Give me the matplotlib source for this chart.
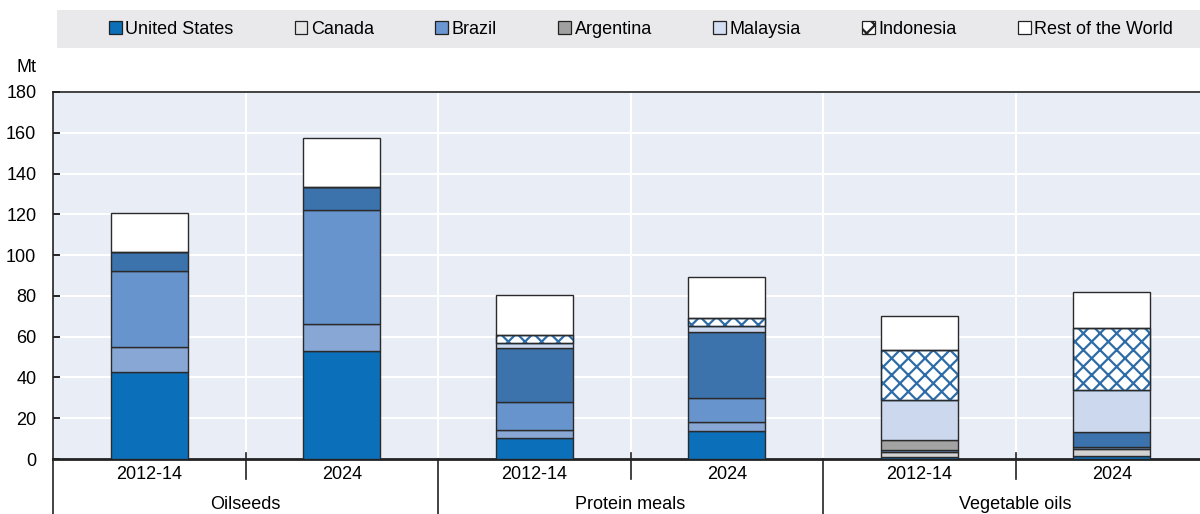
import matplotlib
matplotlib.use("Agg")
import matplotlib.pyplot as plt
import matplotlib.transforms as mtransforms
from matplotlib.patches import Patch, Rectangle
import numpy as np

plt.rcParams["font.family"] = ["Liberation Sans", "DejaVu Sans"]
plt.rcParams["hatch.linewidth"] = 1.6

# Data (Mt)
groups = ["Oilseeds", "Protein meals", "Vegetable oils"]
periods = ["2012-14", "2024", "2012-14", "2024", "2012-14", "2024"]
series = ["United States", "Canada", "Brazil", "Argentina", "Malaysia", "Indonesia", "Rest of the World"]

united_states = [42.5, 53.0, 10.5, 13.5, 1.2, 1.5]
canada = [12.5, 13.0, 3.5, 4.5, 2.0, 3.5]
brazil = [37.0, 56.0, 14.0, 12.0, 1.2, 1.0]
argentina = [9.5, 11.5, 26.5, 32.5, 5.0, 7.4]
malaysia = [0.0, 0.0, 2.5, 2.5, 19.5, 20.5]
indonesia = [0.0, 0.0, 4.0, 4.0, 24.5, 30.5]
rest_of_world = [19.0, 24.0, 19.5, 20.5, 16.5, 17.5]

values = [united_states, canada, brazil, argentina, malaysia, indonesia, rest_of_world]

# colours as they appear in the bars (one per bar)
bar_colors = [
    ["#0b6fba"] * 6,
    ["#88a7d5"] * 4 + ["#d2d2d2"] * 2,
    ["#6794cc"] * 6,
    ["#3c73ad"] * 4 + ["#a3a3a3", "#3c73ad"],
    ["#cbd8ee"] * 6,
    ["white"] * 6,
    ["white"] * 6,
]
bar_hatches = [None, None, None, None, None, "xx", None]
# colours as they appear in the legend
legend_colors = ["#0b6fba", "#e6e6e6", "#6b96d0", "#a0a0a0", "#d3def2", "white", "white"]

fig = plt.figure(figsize=(12, 5.14), dpi=100)
ax = fig.add_axes([53 / 1200, 55 / 514, 1155 / 1200, 367 / 514])
ax.set_facecolor("#e9edf6")

x = np.arange(len(periods))
bottom = np.zeros(len(periods))
for vals, col, hatch in zip(values, bar_colors, bar_hatches):
    vals = np.array(vals)
    ax.bar(x, vals, 0.4, bottom=bottom, color=col,
           edgecolor="#2e6ca8" if hatch else "#2a2a2a",
           hatch=hatch, linewidth=1.0, zorder=3)
    if hatch:
        # dark outline over the hatched segment
        ax.bar(x, vals, 0.4, bottom=bottom, color="none",
               edgecolor="#2a2a2a", linewidth=1.0, zorder=4)
    bottom += vals

ax.set_xlim(-0.5, 5.5)
ax.set_ylim(0, 180)
ax.set_yticks(np.arange(0, 181, 20))
ax.tick_params(axis="y", direction="in", length=5, width=1.2, labelsize=13, pad=12)
ax.set_xticks([])
for yv in np.arange(20, 181, 20):
    ax.axhline(yv, color="white", linewidth=1.5, zorder=1)
for xv in [0.5, 1.5, 2.5, 3.5, 4.5]:
    ax.axvline(xv, color="white", linewidth=1.5, zorder=1)

ax.spines["right"].set_visible(False)
ax.spines["left"].set_linewidth(1.2)
ax.spines["top"].set_linewidth(1.2)
ax.spines["bottom"].set_linewidth(2)
for s in ["left", "top", "bottom"]:
    ax.spines[s].set_color("#222222")

# category axis below the plot
trans = mtransforms.blended_transform_factory(ax.transData, ax.transAxes)
for i, p in enumerate(periods):
    ax.text(i, -0.042, p, transform=trans, ha="center", va="center", fontsize=13)
for g, gname in enumerate(groups):
    ax.text(2 * g + 0.5, -0.125, gname, transform=trans, ha="center", va="center", fontsize=13)
for xv in [0.5, 2.5, 4.5]:
    ax.plot([xv, xv], [0.015, -0.055], transform=trans, color="#222222",
            linewidth=1.2, clip_on=False, zorder=5)
for xv in [-0.5, 1.5, 3.5]:
    ax.plot([xv, xv], [0, -0.16], transform=trans, color="#222222",
            linewidth=1.2, clip_on=False, zorder=5)

fig.text(27 / 1200, 1 - 67 / 514, "Mt", ha="center", va="center", fontsize=13)

# legend band
fig.patches.append(Rectangle((57 / 1200, 1 - 48 / 514), 1143 / 1200, 38 / 514,
                             transform=fig.transFigure, facecolor="#e9e9eb",
                             edgecolor="none", zorder=0))
handles = [Patch(facecolor=c, edgecolor="#222222", linewidth=0.9,
                 hatch=h) for c, h in zip(legend_colors, bar_hatches)]
fig.legend(handles, series, loc="center", bbox_to_anchor=(641 / 1200, 1 - 29 / 514),
           ncol=7, frameon=False, fontsize=13, handlelength=0.7, handleheight=0.7,
           handletextpad=0.2, columnspacing=3.4)

fig.savefig("out.png", dpi=100)
